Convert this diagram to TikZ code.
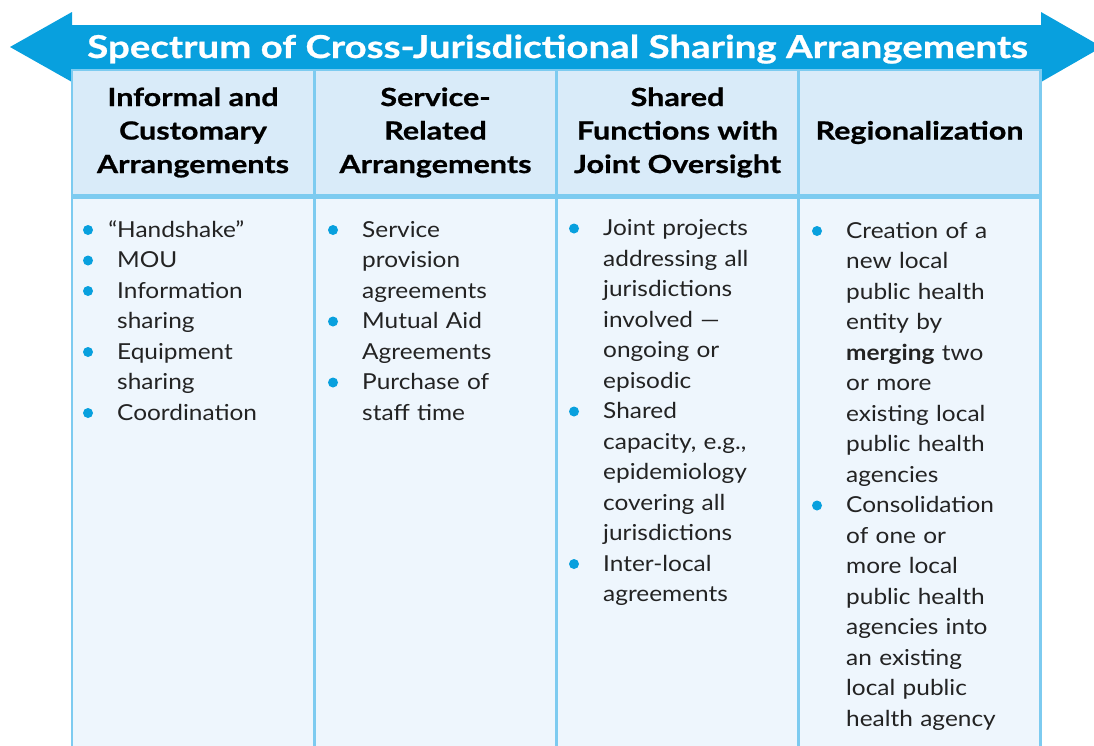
\documentclass[tikz,border=0pt]{standalone}
\usepackage{fontspec}
\setmainfont{Lato}[FakeStretch=1.11]
\newfontfamily\headfont{Lato}[FakeStretch=1.22, FakeBold=0.8]
\usepackage{tikz}
\usetikzlibrary{positioning}
\definecolor{arrowblue}{RGB}{8,160,222}
\definecolor{headfill}{RGB}{217,235,249}
\definecolor{bodyfill}{RGB}{238,246,253}
\definecolor{gridline}{RGB}{125,203,240}
\definecolor{bodytext}{RGB}{35,35,35}

\begin{document}
\begin{tikzpicture}[x=1pt, y=-1pt,
    headcell/.style={draw=gridline, fill=headfill, line width=2.5pt,
      minimum width=242pt, minimum height=125pt, inner sep=0pt,
      align=center, font=\headfont\fontsize{25}{33.5}\selectfont\bfseries},
    bodycell/.style={draw=gridline, fill=bodyfill, line width=2.5pt,
      minimum width=242pt, minimum height=610pt, inner sep=0pt},
    item/.style={anchor=base west, inner sep=0pt, text width=200pt,
      align=left, text=bodytext, font=\fontsize{22}{30.5}\selectfont},
    dot/.style={fill=arrowblue}]
  \clip (0,0) rectangle (1094,745);

  % the double arrow
  \fill[arrowblue] (10,47) -- (72,12) -- (72,25) -- (1041,25) -- (1041,12)
    -- (1102,47) -- (1041,82) -- (1041,70) -- (72,70) -- (72,82) -- cycle;
  \node[text=white, font=\headfont\fontsize{31.5}{36}\selectfont\bfseries, anchor=base]
    (title) at (557.5,58) {Spectrum of Cross-Jurisdictional Sharing Arrangements};

  % header row
  \node[headcell] (h1) at (193,132.5) {Informal and\\Customary\\Arrangements};
  \node[headcell] (h2) at (435.5,132.5) {Service-\\Related\\Arrangements};
  \node[headcell] (h3) at (677.5,132.5) {Shared\\Functions with\\Joint Oversight};
  \node[headcell] (h4) at (919.5,132.5) {Regionalization};

  % body cells
  \node[bodycell, below=0pt of h1] (b1) {};
  \node[bodycell, below=0pt of h2] (b2) {};
  \node[bodycell, below=0pt of h3] (b3) {};
  \node[bodycell, below=0pt of h4] (b4) {};

  % items
  \node[item] (hand) at (117,237) {\llap{“}Handshake”};
  \node[item] (mou) at (117,267.5) {MOU};
  \node[item] (info) at (117,298) {Information\\sharing};
  \node[item] (equip) at (117,359) {Equipment\\sharing};
  \node[item] (coord) at (117,420) {Coordination};

  \node[item] (serv) at (362,237) {Service\\provision\\agreements};
  \node[item] (aid) at (362,328.5) {Mutual Aid\\Agreements};
  \node[item] (staff) at (362,389.5) {Purchase of\\staff time};

  \node[item] (joint) at (603,235.5) {Joint projects\\addressing all\\jurisdictions\\involved —\\ongoing or\\episodic};
  \node[item] (capac) at (603,418.5) {Shared\\capacity, e.g.,\\epidemiology\\covering all\\jurisdictions};
  \node[item] (inter) at (603,571) {Inter-local\\agreements};

  \node[item] (merge) at (846,238) {Creation of a\\new local\\public health\\entity by\\\textbf{merging} two\\or more\\existing local\\public health\\agencies};
  \node[item] (consol) at (846,512.5) {Consolidation\\of one or\\more local\\public health\\agencies into\\an existing\\local public\\health agency};

  % bullets
  \foreach \n in {hand,mou,info,equip,coord,serv,aid,staff,joint,capac,inter,merge,consol}
    \fill[dot] ([shift={(-29,-7)}]\n.base west) circle[radius=5pt];
\end{tikzpicture}
\end{document}
